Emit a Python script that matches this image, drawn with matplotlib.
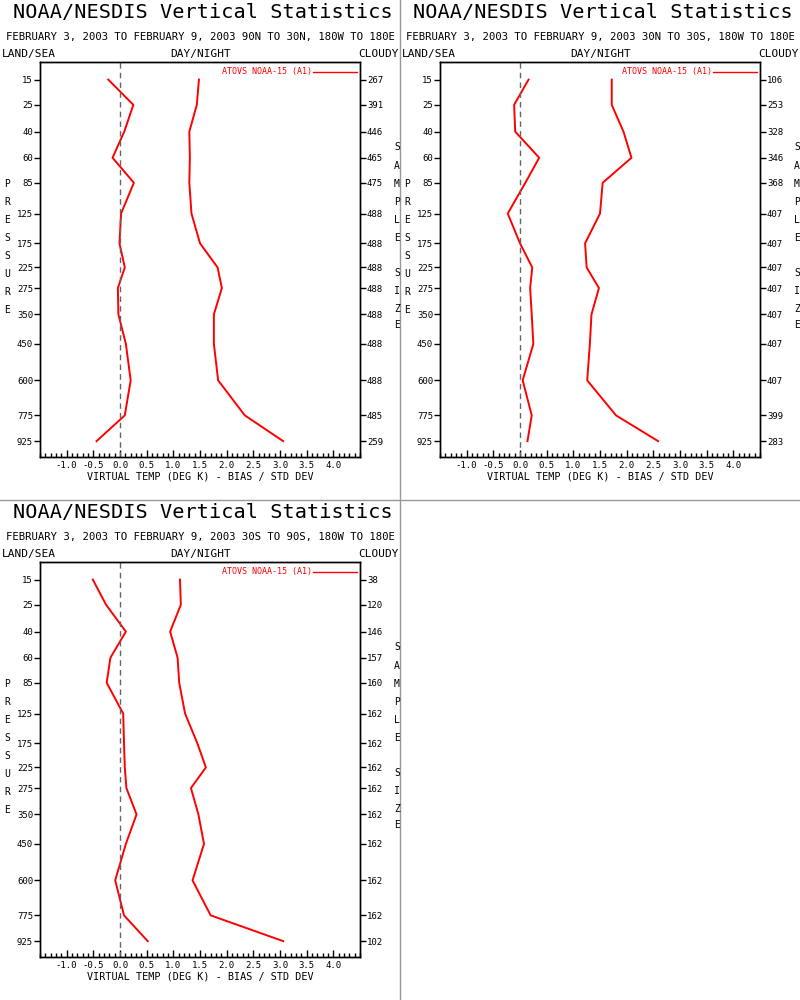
import matplotlib
matplotlib.use('Agg')
from matplotlib import pyplot as plt
from matplotlib.lines import Line2D
from matplotlib.ticker import FixedLocator, MultipleLocator

plt.rcParams['font.family'] = ['DejaVu Sans Mono']

levels = [15, 25, 40, 60, 85, 125, 175, 225, 275, 350, 450, 600, 775, 925]

# 90N to 30N
nh_bias = [-0.22, 0.25, 0.08, -0.14, 0.26, 0.02, -0.01, 0.09, -0.04, -0.03, 0.11, 0.20, 0.09, -0.44]
nh_std = [1.48, 1.44, 1.30, 1.31, 1.30, 1.34, 1.50, 1.83, 1.91, 1.76, 1.76, 1.84, 2.34, 3.06]
nh_count = [267, 391, 446, 465, 475, 488, 488, 488, 488, 488, 488, 488, 485, 259]

# 30N to 30S
tr_bias = [0.16, -0.11, -0.09, 0.36, 0.10, -0.23, 0.0, 0.23, 0.19, 0.22, 0.25, 0.05, 0.22, 0.14]
tr_std = [1.72, 1.72, 1.94, 2.09, 1.55, 1.50, 1.22, 1.25, 1.48, 1.34, 1.31, 1.26, 1.80, 2.59]
tr_count = [106, 253, 328, 346, 368, 407, 407, 407, 407, 407, 407, 407, 399, 283]

# 30S to 90S
sh_bias = [-0.51, -0.26, 0.11, -0.18, -0.25, 0.06, 0.075, 0.09, 0.12, 0.31, 0.11, -0.09, 0.075, 0.52]
sh_std = [1.125, 1.14, 0.94, 1.08, 1.11, 1.22, 1.45, 1.61, 1.33, 1.47, 1.575, 1.36, 1.70, 3.06]
sh_count = [38, 120, 146, 157, 160, 162, 162, 162, 162, 162, 162, 162, 162, 102]

x_ticks = [-1.0, -0.5, 0.0, 0.5, 1.0, 1.5, 2.0, 2.5, 3.0, 3.5, 4.0]

W, H = 800, 1000


def fwd(p):
    return p ** 0.286


def inv(q):
    return q ** (1 / 0.286)


def panel(fig, x0, y0, region, bias, std, count):
    # x0, y0: top-left corner of the panel in pixels
    ax = fig.add_axes([(x0 + 40) / W, 1 - (y0 + 457) / H, 320 / W, 395 / H])
    ax.plot(bias, levels, color='red', linewidth=1.4)
    ax.plot(std, levels, color='red', linewidth=1.4)
    ax.axvline(0, color='#666666', linewidth=1, linestyle=(0, (4, 3)))

    ax.set_yscale('function', functions=(fwd, inv))
    ax.set_ylim(1027, 10)
    ax.set_xlim(-1.5, 4.5)

    ax.set_yticks(levels)
    ax.set_yticklabels([str(v) for v in levels])
    ax.yaxis.set_minor_locator(FixedLocator([]))
    ax.tick_params(axis='y', direction='out', length=4, width=1, labelsize=6.5, pad=1)

    ax.set_xticks(x_ticks)
    ax.set_xticklabels(['%.1f' % v for v in x_ticks])
    ax.xaxis.set_minor_locator(MultipleLocator(0.1))
    ax.tick_params(axis='x', which='major', direction='in', length=5, width=1,
                   labelsize=6.5, pad=3)
    ax.tick_params(axis='x', which='minor', direction='in', length=3, width=1)
    ax.set_xlabel('VIRTUAL TEMP (DEG K) - BIAS / STD DEV', fontsize=7.3, labelpad=1)

    ax2 = ax.twinx()
    ax2.set_yscale('function', functions=(fwd, inv))
    ax2.set_ylim(1027, 10)
    ax2.set_yticks(levels)
    ax2.set_yticklabels([str(v) for v in count])
    ax2.yaxis.set_minor_locator(FixedLocator([]))
    ax2.tick_params(axis='y', direction='out', length=4, width=1, labelsize=6.5, pad=1)

    for a in (ax, ax2):
        for s in a.spines.values():
            s.set_linewidth(1)

    ax.text(0.85, 0.975, 'ATOVS NOAA-15 (A1)', transform=ax.transAxes, color='red',
            fontsize=6, ha='right', va='center')
    ax.add_line(Line2D([0.853, 0.99], [0.975, 0.975], transform=ax.transAxes,
                       color='red', linewidth=1))

    def fx(px):
        return (x0 + px) / W

    def fy(py):
        return 1 - (y0 + py) / H

    fig.text(fx(203), fy(13), 'NOAA/NESDIS Vertical Statistics', fontsize=14.6,
             ha='center', va='center')
    fig.text(fx(200), fy(37),
             'FEBRUARY 3, 2003 TO FEBRUARY 9, 2003 ' + region + ', 180W TO 180E',
             fontsize=7.7, ha='center', va='center')
    fig.text(fx(2), fy(54), 'LAND/SEA', fontsize=8, ha='left', va='center')
    fig.text(fx(201), fy(54), 'DAY/NIGHT', fontsize=8, ha='center', va='center')
    fig.text(fx(399), fy(54), 'CLOUDY', fontsize=8, ha='right', va='center')

    for i, ch in enumerate('PRESSURE'):
        fig.text(fx(7), fy(184 + 18 * i), ch, fontsize=7, ha='center', va='center')
    side = list('SAMPLE') + [''] + list('SIZE')
    ys = [147, 166, 184, 202, 220, 238, 0, 273, 291, 309, 325]
    for ch, yy in zip(side, ys):
        if ch:
            fig.text(fx(397), fy(yy), ch, fontsize=7, ha='center', va='center')


fig = plt.figure(figsize=(8, 10), dpi=100)
panel(fig, 0, 0, '90N TO 30N', nh_bias, nh_std, nh_count)
panel(fig, 400, 0, '30N TO 30S', tr_bias, tr_std, tr_count)
panel(fig, 0, 500, '30S TO 90S', sh_bias, sh_std, sh_count)

fig.add_artist(Line2D([0.5, 0.5], [0, 1], transform=fig.transFigure,
                      color='#999999', linewidth=1))
fig.add_artist(Line2D([0, 1], [0.5, 0.5], transform=fig.transFigure,
                      color='#999999', linewidth=1))

fig.savefig('out.png', dpi=100)
